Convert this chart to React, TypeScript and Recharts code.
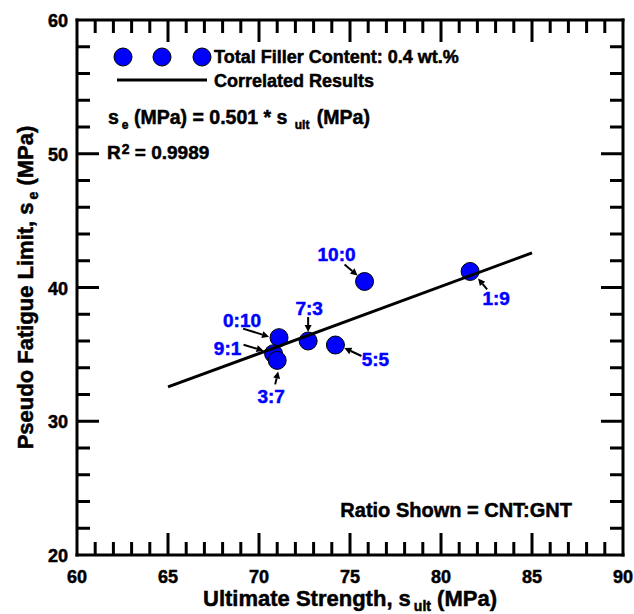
import React from 'react';
import { ScatterChart, Scatter, XAxis, YAxis } from 'recharts';

// CNT:GNT ratio of each specimen group
const ratioLabels = ['10:0', '1:9', '0:10', '7:3', '5:5', '9:1', '3:7'];
// Ultimate strength (MPa)
const ultimateStrength = [75.8, 81.6, 71.1, 72.7, 74.2, 70.8, 71.0];
// Pseudo fatigue limit (MPa)
const fatigueLimit = [40.45, 41.2, 36.25, 36.0, 35.7, 35.05, 34.55];

// Correlation  s_e = 0.501 * s_ult, drawn over 65..85 MPa
const fitSlope = 0.501;
const fitStart = 65;
const fitEnd = 85;
const rSquared = '0.9989';

const xMajorTicks = [60, 65, 70, 75, 80, 85, 90];
const yMajorTicks = [20, 30, 40, 50, 60];
const xMinorStep = 1;
const yMinorStep = 2;

const W = 634;
const H = 614;
// the mirrored top / right axes take 1px each
const MARGIN = { top: 19, right: 10, bottom: 19, left: 17 };
const Y_AXIS_W = 60;
const X_AXIS_H = 40;

const FONT = '"Liberation Sans", Arial, Helvetica, sans-serif';
const BLUE = '#0000ff';
// a hairline outline gives the heavy bold look of the labels
const HEAVY = { stroke: 'currentColor', strokeWidth: 0.5 };

const buildTicks = (lo: number, hi: number, step: number) => {
  const out: number[] = [];
  for (let v = lo; v <= hi + 1e-9; v += step) out.push(Math.round(v * 100) / 100);
  return out;
};
const X_MIN = xMajorTicks[0];
const X_MAX = xMajorTicks[xMajorTicks.length - 1];
const Y_MIN = yMajorTicks[0];
const Y_MAX = yMajorTicks[yMajorTicks.length - 1];
const xTicks = buildTicks(X_MIN, X_MAX, xMinorStep);
const yTicks = buildTicks(Y_MIN, Y_MAX, yMinorStep);

const points = ratioLabels.map((label, i) => ({ x: ultimateStrength[i], y: fatigueLimit[i], label }));
const fitLine = [
  { x: fitStart, y: fitSlope * fitStart },
  { x: fitEnd, y: fitSlope * fitEnd },
];

// Offsets (px, from the marker centre) for each ratio tag and its arrow
const tagLayout: Record<string, { tx: number; ty: number; ax1: number; ay1: number; ax2: number; ay2: number }> = {
  '10:0': { tx: -28, ty: -27, ax1: -20, ay1: -17, ax2: -7, ay2: -6 },
  '1:9': { tx: 26, ty: 27, ax1: 17, ay1: 18, ax2: 8, ay2: 7 },
  '0:10': { tx: -37, ty: -18, ax1: -36, ay1: -9, ax2: -10, ay2: -1 },
  '7:3': { tx: 1, ty: -33, ax1: 0, ay1: -24, ax2: 0, ay2: -9 },
  '5:5': { tx: 40, ty: 14, ax1: 26, ay1: 11, ax2: 9, ay2: 3 },
  '9:1': { tx: -46, ty: -6, ax1: -30, ay1: -9, ax2: -10, ay2: -3 },
  '3:7': { tx: -6, ty: 36, ax1: -2, ay1: 24, ax2: 1, ay2: 11 },
};

const Arrow = ({ x1, y1, x2, y2 }: { x1: number; y1: number; x2: number; y2: number }) => {
  const dx = x2 - x1;
  const dy = y2 - y1;
  const len = Math.hypot(dx, dy) || 1;
  const ux = dx / len;
  const uy = dy / len;
  const hl = 7;
  const hw = 3.5;
  const bx = x2 - ux * hl;
  const by = y2 - uy * hl;
  return (
    <g>
      <line x1={x1} y1={y1} x2={bx} y2={by} stroke="#000" strokeWidth={2} />
      <polygon
        points={`${x2},${y2} ${bx - uy * hw},${by + ux * hw} ${bx + uy * hw},${by - ux * hw}`}
        fill="#000"
      />
    </g>
  );
};

const TagShape = (props: any) => {
  const { cx, cy, payload } = props;
  const t = tagLayout[payload.label];
  if (!t) return <g />;
  return (
    <g>
      <Arrow x1={cx + t.ax1} y1={cy + t.ay1} x2={cx + t.ax2} y2={cy + t.ay2} />
      <text
        x={cx + t.tx}
        y={cy + t.ty + 7}
        textAnchor="middle"
        fontFamily={FONT}
        fontWeight="bold"
        fontSize={19}
        fill={BLUE}
        color={BLUE}
        {...HEAVY}
      >
        {payload.label}
      </text>
    </g>
  );
};

const PointShape = (props: any) => (
  <circle cx={props.cx} cy={props.cy} r={9} fill={BLUE} stroke="#000" strokeWidth={1} />
);

const tickText = {
  fontFamily: FONT,
  fontWeight: 'bold' as const,
  fontSize: 18,
  fill: '#000',
  color: '#000',
  ...HEAVY,
};

const isEdge = (v: number, lo: number, hi: number) => Math.abs(v - lo) < 1e-9 || Math.abs(v - hi) < 1e-9;

const BottomTick = (props: any) => {
  const { x, y, payload } = props;
  const v = payload.value as number;
  const major = v % 5 === 0;
  return (
    <g>
      {!isEdge(v, X_MIN, X_MAX) && (
        <line x1={x} y1={y} x2={x} y2={y - (major ? 22 : 13)} stroke="#000" strokeWidth={3} />
      )}
      {major && (
        <text x={x} y={y + 28} textAnchor="middle" {...tickText}>
          {v}
        </text>
      )}
    </g>
  );
};

const TopTick = (props: any) => {
  const { x, y, payload } = props;
  const v = payload.value as number;
  const major = v % 5 === 0;
  if (isEdge(v, X_MIN, X_MAX)) return <g />;
  return <line x1={x} y1={y} x2={x} y2={y + (major ? 22 : 13)} stroke="#000" strokeWidth={3} />;
};

const LeftTick = (props: any) => {
  const { x, y, payload } = props;
  const v = payload.value as number;
  const major = v % 10 === 0;
  return (
    <g>
      {!isEdge(v, Y_MIN, Y_MAX) && (
        <line x1={x} y1={y} x2={x + (major ? 22 : 13)} y2={y} stroke="#000" strokeWidth={3} />
      )}
      {major && (
        <text x={x - 9} y={y + 7} textAnchor="end" {...tickText}>
          {v}
        </text>
      )}
    </g>
  );
};

const RightTick = (props: any) => {
  const { x, y, payload } = props;
  const v = payload.value as number;
  const major = v % 10 === 0;
  if (isEdge(v, Y_MIN, Y_MAX)) return <g />;
  return <line x1={x} y1={y} x2={x - (major ? 22 : 13)} y2={y} stroke="#000" strokeWidth={3} />;
};

const titleStyle = {
  fontFamily: FONT,
  fontWeight: 'bold' as const,
  fontSize: 22,
  fill: '#000',
  color: '#000',
  ...HEAVY,
};

const XTitle = (props: any) => {
  const vb = props.viewBox || {};
  const cx = vb.x + vb.width / 2;
  return (
    <text x={cx} y={vb.y + 51} textAnchor="middle" {...titleStyle}>
      Ultimate Strength, s
      <tspan fontSize={14} dx={3} dy={5}>ult</tspan>
      <tspan dy={-5}> (MPa)</tspan>
    </text>
  );
};

const YTitle = (props: any) => {
  const vb = props.viewBox || {};
  const cy = vb.y + vb.height / 2;
  const bx = 33;
  return (
    <text x={bx} y={cy} textAnchor="middle" transform={`rotate(-90, ${bx}, ${cy})`} {...titleStyle}>
      Pseudo Fatigue Limit, s
      <tspan fontSize={14} dx={3} dy={5}>e</tspan>
      <tspan dy={-5}> (MPa)</tspan>
    </text>
  );
};

const axisLine = { stroke: '#000', strokeWidth: 3, strokeLinecap: 'square' as const };

const noteText = {
  fontFamily: FONT,
  fontWeight: 'bold' as const,
  fontSize: 18,
  fill: '#000',
  color: '#000',
  ...HEAVY,
};

export default function App() {
  return (
    <div style={{ position: 'absolute', left: 0, top: 0, width: W, height: H, background: '#fff' }}>
      <ScatterChart width={W} height={H} margin={MARGIN}>
        <XAxis
          xAxisId="bottom"
          type="number"
          dataKey="x"
          domain={[X_MIN, X_MAX]}
          ticks={xTicks}
          interval={0}
          height={X_AXIS_H}
          tickSize={0}
          tickMargin={0}
          axisLine={axisLine}
          tick={<BottomTick />}
          label={{ content: <XTitle /> } as any}
          allowDataOverflow
        />
        <XAxis
          xAxisId="top"
          orientation="top"
          type="number"
          dataKey="x"
          domain={[X_MIN, X_MAX]}
          ticks={xTicks}
          interval={0}
          height={1}
          tickSize={0}
          tickMargin={0}
          axisLine={axisLine}
          tick={<TopTick />}
          allowDataOverflow
        />
        <YAxis
          yAxisId="left"
          type="number"
          dataKey="y"
          domain={[Y_MIN, Y_MAX]}
          ticks={yTicks}
          interval={0}
          width={Y_AXIS_W}
          tickSize={0}
          tickMargin={0}
          axisLine={axisLine}
          tick={<LeftTick />}
          label={{ content: <YTitle /> } as any}
          allowDataOverflow
        />
        <YAxis
          yAxisId="right"
          orientation="right"
          type="number"
          dataKey="y"
          domain={[Y_MIN, Y_MAX]}
          ticks={yTicks}
          interval={0}
          width={1}
          tickSize={0}
          tickMargin={0}
          axisLine={axisLine}
          tick={<RightTick />}
          allowDataOverflow
        />
        {/* binds the mirrored frame axes so they are laid out */}
        <Scatter
          data={points}
          xAxisId="top"
          yAxisId="right"
          shape={() => <g />}
          isAnimationActive={false}
        />
        <Scatter
          data={points}
          xAxisId="bottom"
          yAxisId="left"
          shape={<TagShape />}
          isAnimationActive={false}
        />
        <Scatter
          data={points}
          xAxisId="bottom"
          yAxisId="left"
          shape={<PointShape />}
          isAnimationActive={false}
        />
        <Scatter
          data={fitLine}
          xAxisId="bottom"
          yAxisId="left"
          line={{ stroke: '#000', strokeWidth: 3 }}
          lineType="joint"
          shape={() => <g />}
          isAnimationActive={false}
        />
      </ScatterChart>
      <svg
        width={W}
        height={H}
        style={{ position: 'absolute', left: 0, top: 0, pointerEvents: 'none' }}
      >
        <circle cx={123} cy={57} r={9} fill={BLUE} stroke="#000" strokeWidth={1} />
        <circle cx={162} cy={57} r={9} fill={BLUE} stroke="#000" strokeWidth={1} />
        <circle cx={202} cy={57} r={9} fill={BLUE} stroke="#000" strokeWidth={1} />
        <text x={214} y={63} {...noteText}>
          Total Filler Content: 0.4 wt.%
        </text>
        <line x1={117} y1={80} x2={207} y2={80} stroke="#000" strokeWidth={3} />
        <text x={214} y={87} {...noteText}>
          Correlated Results
        </text>
        <text x={108} y={124} {...noteText} fontSize={19.5}>
          s<tspan fontSize={12} dx={3} dy={5}>e</tspan>
          <tspan dy={-5}> (MPa) = {fitSlope.toFixed(3)} * s </tspan>
          <tspan fontSize={12} dx={2} dy={5}>ult</tspan>
          <tspan dx={2} dy={-5}> (MPa)</tspan>
        </text>
        <text x={107} y={159} {...noteText} fontSize={19}>
          R<tspan fontSize={14} dx={1} dy={-5}>2</tspan>
          <tspan dy={5}> = {rSquared}</tspan>
        </text>
        <text x={572} y={517} textAnchor="end" {...noteText} fontSize={20}>
          Ratio Shown = CNT:GNT
        </text>
      </svg>
    </div>
  );
}
